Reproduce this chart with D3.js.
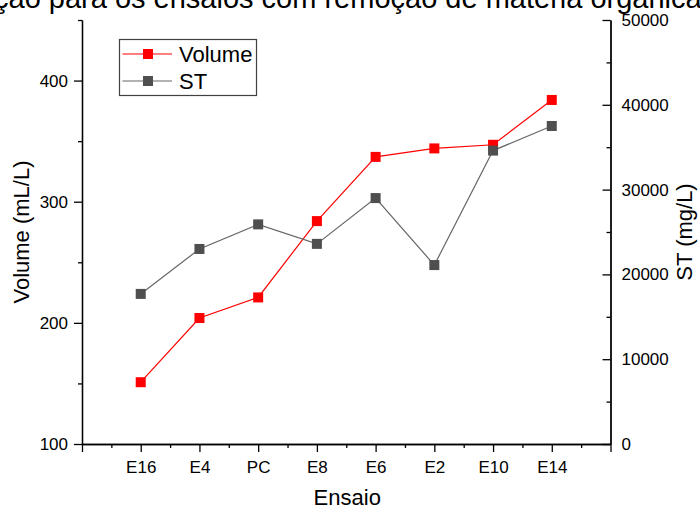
<!DOCTYPE html>
<html>
<head>
<meta charset="utf-8">
<script src="https://cdn.jsdelivr.net/npm/d3@7"></script>
<style>
  html, body { margin: 0; padding: 0; background: #fff; }
  svg { display: block; font-family: "Liberation Sans", Arial, sans-serif; }
</style>
</head>
<body>
<svg id="chart" width="700" height="508"></svg>
<script>
// Test runs (x axis order)
const categories = ["E16", "E4", "PC", "E8", "E6", "E2", "E10", "E14"];
// Gas volume per run (mL/L), left axis
const volumeValues = [151, 204, 221, 284, 337, 344, 347, 384];
// Total solids per run (mg/L), right axis
const stValues = [17700, 23000, 25900, 23600, 29000, 21100, 34600, 37500];
// Tick values
const leftTicks = [100, 200, 300, 400];
const leftMinor = [150, 250, 350, 450];
const rightTicks = [0, 10000, 20000, 30000, 40000, 50000];
const rightMinor = [5000, 15000, 25000, 35000, 45000];

const titleText = "ção para os ensaios com remoção de matéria orgânica";

const svg = d3.select("#chart");
const plotLeft = 82, plotRight = 610.5, plotTop = 20, plotBottom = 444;

const x = d3.scaleLinear().domain([0, categories.length + 1]).range([plotLeft, plotRight]);
const yL = d3.scaleLinear().domain([100, 450]).range([plotBottom, plotTop]);
const yR = d3.scaleLinear().domain([0, 50000]).range([plotBottom, plotTop]);

// Title (runs past both edges of the page)
svg.append("text")
  .attr("x", -6).attr("y", 7.5)
  .attr("font-size", 29).attr("fill", "#000")
  .text(titleText);

function styleAxis(g) {
  g.selectAll("path, line").attr("stroke", "#000").attr("stroke-width", 1.3);
  g.selectAll("text").attr("fill", "#000").attr("font-family", "Liberation Sans, Arial, sans-serif");
}

// Bottom axis: major ticks at every slot, labels only for the runs
const xMajor = d3.range(0, categories.length + 2);
const xMinor = d3.range(0.5, categories.length + 1, 1);
svg.append("g").attr("transform", `translate(0,${plotBottom})`)
  .call(d3.axisBottom(x).tickValues(xMinor).tickSize(4).tickSizeOuter(0).tickFormat(""))
  .call(styleAxis);
svg.append("g").attr("transform", `translate(0,${plotBottom})`)
  .call(d3.axisBottom(x).tickValues(xMajor).tickSize(8).tickSizeOuter(0).tickPadding(9)
    .tickFormat(i => (i >= 1 && i <= categories.length) ? categories[i - 1] : ""))
  .call(styleAxis)
  .selectAll("text").attr("font-size", 17);

// Left axis
svg.append("g").attr("transform", `translate(${plotLeft},0)`)
  .call(d3.axisLeft(yL).tickValues(leftMinor).tickSize(4).tickSizeOuter(0).tickFormat(""))
  .call(styleAxis);
svg.append("g").attr("transform", `translate(${plotLeft},0)`)
  .call(d3.axisLeft(yL).tickValues(leftTicks).tickSize(8).tickSizeOuter(0).tickPadding(6).tickFormat(d3.format("d")))
  .call(styleAxis)
  .selectAll("text").attr("font-size", 17);

// Right axis, ticks pointing into the plot
svg.append("g").attr("transform", `translate(${plotRight},0)`)
  .call(d3.axisRight(yR).tickValues(rightMinor).tickSize(-4).tickSizeOuter(0).tickFormat(""))
  .call(styleAxis);
svg.append("g").attr("transform", `translate(${plotRight},0)`)
  .call(d3.axisRight(yR).tickValues(rightTicks).tickSize(-8).tickSizeOuter(0).tickPadding(11).tickFormat(d3.format("d")))
  .call(styleAxis)
  .selectAll("text").attr("font-size", 17);

// Axis titles
svg.append("text")
  .attr("x", (plotLeft + plotRight) / 2 + 1).attr("y", 505)
  .attr("text-anchor", "middle").attr("font-size", 22)
  .text("Ensaio");
svg.append("text")
  .attr("transform", `translate(29,${(plotTop + plotBottom) / 2}) rotate(-90)`)
  .attr("text-anchor", "middle").attr("font-size", 22)
  .text("Volume (mL/L)");
svg.append("text")
  .attr("transform", `translate(692,${(plotTop + plotBottom) / 2}) rotate(-90)`)
  .attr("text-anchor", "middle").attr("font-size", 22)
  .text("ST (mg/L)");

// Series
const series = [
  { name: "Volume", values: volumeValues, y: yL, line: "#ff0000", fill: "#ff0000" },
  { name: "ST", values: stValues, y: yR, line: "#666666", fill: "#4f4f4f" }
];
const ms = 10;

series.forEach(s => {
  const pts = s.values.map((v, i) => [x(i + 1), s.y(v)]);
  svg.append("path")
    .attr("d", d3.line()(pts))
    .attr("fill", "none").attr("stroke", s.line).attr("stroke-width", 1.2);
  svg.append("g").selectAll("rect").data(pts).join("rect")
    .attr("x", d => d[0] - ms / 2).attr("y", d => d[1] - ms / 2)
    .attr("width", ms).attr("height", ms)
    .attr("fill", s.fill);
});

// Legend
const lg = svg.append("g");
lg.append("rect")
  .attr("x", 119.5).attr("y", 39.5).attr("width", 137).attr("height", 56)
  .attr("fill", "#fff").attr("stroke", "#404040").attr("stroke-width", 1.2);
series.forEach((s, i) => {
  const cy = 54 + i * 27;
  lg.append("line").attr("x1", 122.5).attr("x2", 172).attr("y1", cy).attr("y2", cy)
    .attr("stroke", s.line).attr("stroke-width", 1.2);
  lg.append("rect").attr("x", 148 - ms / 2).attr("y", cy - ms / 2)
    .attr("width", ms).attr("height", ms).attr("fill", s.fill);
  lg.append("text").attr("x", 179).attr("y", cy + 8)
    .attr("font-size", 22).text(s.name);
});
</script>
</body>
</html>
